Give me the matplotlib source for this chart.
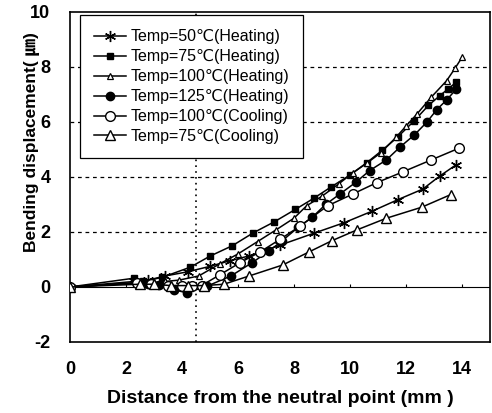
import numpy as np
import matplotlib
matplotlib.use('Agg')
import matplotlib.pyplot as plt

# distance from neutral point (mm) and bending displacement (um)
x_50h = [0, 2.3, 2.8, 3.4, 4.2, 5.0, 5.7, 6.4, 7.5, 8.7, 9.8, 10.8, 11.7, 12.6, 13.2, 13.8]
y_50h = [0, 0.2, 0.25, 0.4, 0.55, 0.75, 0.95, 1.13, 1.52, 1.95, 2.34, 2.76, 3.17, 3.56, 4.03, 4.45]

x_75h = [0, 2.3, 2.6, 3.3, 4.3, 5.0, 5.8, 6.55, 7.3, 8.05, 8.7, 9.33, 10.0, 10.6, 11.15, 11.7,
         12.3, 12.8, 13.2, 13.5, 13.8]
y_75h = [0, 0.32, 0.2, 0.35, 0.72, 1.12, 1.5, 1.97, 2.37, 2.82, 3.22, 3.64, 4.07, 4.52, 4.97, 5.45,
         6.05, 6.6, 6.95, 7.2, 7.45]

x_100h = [0, 2.4, 2.9, 3.4, 3.9, 4.6, 5.35, 6.0, 6.7, 7.35, 8.0, 8.45, 9.0, 9.6, 10.1, 10.6, 11.1,
          11.65, 12.0, 12.4, 12.9, 13.45, 13.75, 14.0]
y_100h = [0, 0.15, 0.15, 0.2, 0.25, 0.4, 0.84, 1.2, 1.65, 2.07, 2.5, 2.95, 3.3, 3.75, 4.15, 4.5, 4.88,
          5.45, 5.85, 6.3, 6.9, 7.5, 7.95, 8.35]

x_125h = [0, 2.4, 2.8, 3.2, 3.7, 4.17, 4.9, 5.75, 6.5, 7.1, 7.58, 8.15, 8.65, 9.13, 9.64, 10.2,
          10.7, 11.3, 11.8, 12.3, 12.75, 13.1, 13.45, 13.8]
y_125h = [0, 0.15, 0.1, 0.07, -0.1, -0.21, 0.03, 0.4, 0.88, 1.3, 1.68, 2.17, 2.53, 3.0, 3.38, 3.8,
          4.23, 4.62, 5.1, 5.53, 6.0, 6.45, 6.8, 7.2]

x_100c = [0, 2.4, 2.9, 3.5, 4.0, 4.35, 4.7, 5.35, 6.07, 6.8, 7.5, 8.2, 9.2, 10.1, 10.95, 11.9, 12.9, 13.9]
y_100c = [0, 0.15, 0.1, 0.05, 0.05, 0.05, 0.05, 0.44, 0.88, 1.28, 1.73, 2.2, 2.95, 3.38, 3.79, 4.19, 4.62, 5.05]

x_75c = [0, 2.5, 3.0, 3.6, 4.2, 4.8, 5.5, 6.4, 7.6, 8.55, 9.35, 10.26, 11.3, 12.56, 13.6]
y_75c = [0, 0.1, 0.1, 0.05, 0.05, 0.05, 0.1, 0.4, 0.8, 1.28, 1.68, 2.08, 2.5, 2.9, 3.36]

labels = ['Temp=50\u2103(Heating)', 'Temp=75\u2103(Heating)', 'Temp=100\u2103(Heating)',
          'Temp=125\u2103(Heating)', 'Temp=100\u2103(Cooling)', 'Temp=75\u2103(Cooling)']

xticks = [0, 2, 4, 6, 8, 10, 12, 14]
yticks = [-2, 0, 2, 4, 6, 8, 10]

fam = ['Liberation Sans', 'DejaVu Sans', 'Noto Sans CJK JP']
plt.rcParams['font.family'] = fam
plt.rcParams['axes.unicode_minus'] = False

fig = plt.figure(figsize=(4.92, 4.13), dpi=100)
ax = fig.add_axes([0.142, 0.172, 0.854, 0.799])

# grid: dashed horizontals, dotted vertical at 4.5
for yv in [2, 4, 6, 8]:
    ax.axhline(yv, color='black', lw=0.9, ls=(0, (3, 3)), zorder=1)
ax.axvline(4.5, color='black', lw=1.2, ls=(0, (1, 2.5)), zorder=1)

# x axis line through zero with small upward ticks
ax.axhline(0, color='black', lw=0.8, zorder=1)
ax.vlines(xticks[1:], 0, 0.12, color='black', lw=0.8, zorder=1)

kw = dict(color='black', lw=1.1, zorder=3)
ax.plot(x_50h, y_50h, marker=(6, 2, 0), ms=8, mew=1.0, label=labels[0], **kw)
ax.plot(x_75h, y_75h, marker='s', ms=5, mfc='black', mec='black', label=labels[1], **kw)
ax.plot(x_100h, y_100h, marker='^', ms=4.5, mfc='white', mec='black', mew=0.9, label=labels[2], **kw)
ax.plot(x_125h, y_125h, marker='o', ms=6, mfc='black', mec='black', label=labels[3], **kw)
ax.plot(x_100c, y_100c, marker='o', ms=7, mfc='white', mec='black', mew=1.0, label=labels[4], **kw)
ax.plot(x_75c, y_75c, marker='^', ms=7, mfc='white', mec='black', mew=1.0, label=labels[5], **kw)

ax.set_xlim(0, 15)
ax.set_ylim(-2, 10)
ax.set_xticks(xticks)
ax.set_yticks(yticks)
ax.tick_params(axis='both', length=0, labelsize=13)
ax.tick_params(axis='x', pad=14)
ax.tick_params(axis='y', pad=14)
for t in ax.get_xticklabels() + ax.get_yticklabels():
    t.set_fontweight('bold')

for s in ax.spines.values():
    s.set_linewidth(1.2)

ax.set_xlabel('Distance from the neutral point (mm )', fontsize=14, fontweight='bold')
ax.xaxis.set_label_coords(0.5, -0.145)
ax.set_ylabel('Bending displacement( \u339b)', fontsize=12.5, fontweight='bold')
ax.yaxis.set_label_coords(-0.071, 0.606)

leg = ax.legend(loc='upper left', bbox_to_anchor=(0.024, 0.991), fontsize=11.5, frameon=True,
                fancybox=False, framealpha=1, edgecolor='black', handlelength=2.0,
                handletextpad=0.25, labelspacing=0.31, borderpad=0.9, borderaxespad=0)
leg.get_frame().set_linewidth(0.9)
leg.set_zorder(5)

fig.savefig('out.png', dpi=100)
